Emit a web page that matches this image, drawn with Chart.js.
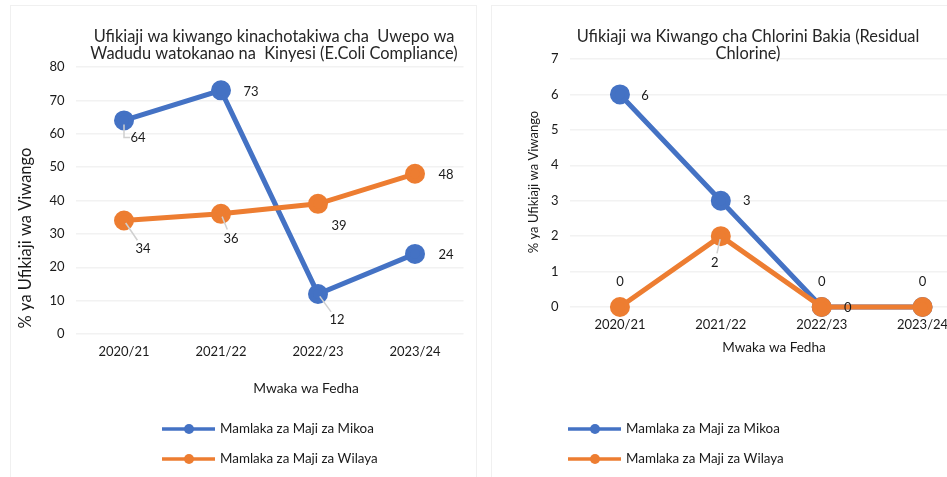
<!DOCTYPE html>
<html>
<head>
<meta charset="utf-8">
<script src="https://cdn.jsdelivr.net/npm/chart.js@4"></script>
<style>
  body { margin: 0; background: #fff; overflow: hidden; width: 947px; height: 477px; position: relative; }
  .frame { position: absolute; border: 1px solid #f0f0f0; box-sizing: border-box; }
  #leftBox { left: 10px; top: 5px; width: 467px; height: 480px; }
  #rightBox { left: 491px; top: 5px; width: 512px; height: 480px; }
</style>
</head>
<body>
<div class="frame" id="leftBox"><canvas id="ecoli"></canvas></div>
<div class="frame" id="rightBox"><canvas id="chlorine"></canvas></div>
<script>
// data
const years = ["2020/21", "2021/22", "2022/23", "2023/24"];
const seriesNames = ["Mamlaka za Maji za Mikoa", "Mamlaka za Maji za Wilaya"];
const ecoliMikoa = [64, 73, 12, 24];
const ecoliWilaya = [34, 36, 39, 48];
const chlorineMikoa = [6, 3, 0, 0];
const chlorineWilaya = [0, 2, 0, 0];

const BLUE = "#4472C4";
const ORANGE = "#ED7D31";
const FONT = "Lato, 'Open Sans', sans-serif";
const TEXT = "#1a1a1a";

// label offsets from the point: [dx, dy, leader]
const ecoliMikoaLbl = [[14, 17, "L"], [30, 1, ""], [19, 26, "line"], [31, 1, ""]];
const ecoliWilayaLbl = [[19, 28, "line"], [10, 25, "line"], [21, 22, ""], [31, 1, ""]];
const chlorMikoaLbl = [[25, 1, ""], [26, 0, ""], [26, 1, ""], [34, 1, ""]];
const chlorWilayaLbl = [[0, -25, ""], [-6, 27, "line"], [0, -25, ""], [0, -25, ""]];

// draws titles, axis titles, data labels and legend
const decor = {
  id: "decor",
  afterDatasetsDraw(chart, args, o) {
    const ctx = chart.ctx;
    ctx.save();
    ctx.fillStyle = TEXT;
    ctx.textAlign = "center";
    ctx.textBaseline = "middle";
    // title
    ctx.fillStyle = "#262626";
    ctx.font = o.titleSize + "px " + FONT;
    o.title.forEach((t, i) => ctx.fillText(t, o.titleX, o.titleY + i * 17));
    ctx.fillStyle = TEXT;
    // x title
    ctx.font = o.axisSize + "px " + FONT;
    ctx.fillText(o.xTitle, o.xTitleX, o.xTitleY);
    // y title
    ctx.save();
    ctx.font = o.yAxisSize + "px " + FONT;
    ctx.translate(o.yTitleX, o.yTitleY);
    ctx.rotate(-Math.PI / 2);
    ctx.fillText(o.yTitle, 0, 0);
    ctx.restore();
    // data labels
    ctx.font = "13px " + FONT;
    chart.data.datasets.forEach((ds, di) => {
      const meta = chart.getDatasetMeta(di);
      meta.data.forEach((pt, i) => {
        const off = o.labels[di][i];
        const lx = pt.x + off[0], ly = pt.y + off[1];
        ctx.strokeStyle = "#d0d0d0";
        ctx.lineWidth = 1.5;
        if (off[2] === "L") {
          ctx.beginPath();
          ctx.moveTo(pt.x, pt.y + 4);
          ctx.lineTo(pt.x, ly);
          ctx.lineTo(lx - 8, ly);
          ctx.stroke();
        } else if (off[2] === "line") {
          const dx = off[0], dy = off[1], d = Math.hypot(dx, dy);
          ctx.beginPath();
          ctx.moveTo(pt.x + dx / d * 3, pt.y + dy / d * 3);
          ctx.lineTo(lx - dx / d * 10, ly - dy / d * 10);
          ctx.stroke();
        }
        ctx.fillText(String(ds.data[i]), lx, ly);
      });
    });
    // legend
    chart.data.datasets.forEach((ds, di) => {
      const y = o.legendY + di * 30;
      ctx.strokeStyle = ds.borderColor;
      ctx.lineWidth = 3.5;
      ctx.beginPath();
      ctx.moveTo(o.legendX, y);
      ctx.lineTo(o.legendX + 53, y);
      ctx.stroke();
      ctx.fillStyle = ds.borderColor;
      ctx.beginPath();
      ctx.arc(o.legendX + 27, y, 5, 0, Math.PI * 2);
      ctx.fill();
      ctx.fillStyle = TEXT;
      ctx.textAlign = "left";
      ctx.font = "13.4px " + FONT;
      ctx.fillText(ds.label, o.legendX + 58, y);
      ctx.textAlign = "center";
    });
    ctx.restore();
  }
};

function makeDatasets(a, b) {
  return [
    { label: seriesNames[0], data: a, borderColor: BLUE, backgroundColor: BLUE,
      borderWidth: 5, pointRadius: 7.5, pointHoverRadius: 7.5, order: 1 },
    { label: seriesNames[1], data: b, borderColor: ORANGE, backgroundColor: ORANGE,
      borderWidth: 5, pointRadius: 7.5, pointHoverRadius: 7.5, order: 0 }
  ];
}

function makeChart(id, w, h, a, b, yMax, pad, yWidth, xHeight, deco) {
  const cv = document.getElementById(id);
  cv.width = w; cv.height = h;
  cv.style.width = w + "px"; cv.style.height = h + "px";
  return new Chart(cv, {
    type: "line",
    data: { labels: years, datasets: makeDatasets(a, b) },
    plugins: [decor],
    options: {
      responsive: false,
      animation: false,
      clip: false,
      layout: { padding: pad },
      plugins: {
        legend: { display: false },
        title: { display: false },
        tooltip: { enabled: false },
        decor: deco
      },
      scales: {
        x: {
          offset: true,
          grid: { display: false, drawTicks: false },
          border: { display: false },
          ticks: { padding: 10, color: TEXT, font: { family: FONT, size: 13 }, maxRotation: 0 },
          afterFit(s) { s.height = xHeight; }
        },
        y: {
          min: 0, max: yMax,
          grid: { color: "#f2f2f2", lineWidth: 1.5, drawTicks: false },
          border: { display: false },
          ticks: { stepSize: yMax > 10 ? 10 : 1, padding: 11, color: TEXT, font: { family: FONT, size: 13 } },
          afterFit(s) { s.width = yWidth; }
        }
      }
    }
  });
}

// left chart: chart area 64.5..452.5 x, 61..328 y (canvas coords)
makeChart("ecoli", 467, 472, ecoliMikoa, ecoliWilaya, 80,
  { left: 24.5, right: 14.5, top: 61, bottom: 104 }, 40, 40,
  {
    title: ["Ufikiaji wa kiwango kinachotakiwa cha  Uwepo wa", "Wadudu watokanao na  Kinyesi (E.Coli Compliance)"],
    titleX: 263, titleY: 31, titleSize: 16.4,
    xTitle: "Mwaka wa Fedha", xTitleX: 295, xTitleY: 383, axisSize: 13.8,
    yTitle: "% ya Ufikiaji wa Viwango", yTitleX: 15, yTitleY: 232, yAxisSize: 16.5,
    labels: [ecoliMikoaLbl, ecoliWilayaLbl],
    legendX: 151, legendY: 423
  });

// right chart: chart area 77.5..481 x, 53..301 y
makeChart("chlorine", 512, 472, chlorineMikoa, chlorineWilaya, 7,
  { left: 37.5, right: 31, top: 53, bottom: 131 }, 40, 40,
  {
    title: ["Ufikiaji wa Kiwango cha Chlorini Bakia (Residual", "Chlorine)"],
    titleX: 256, titleY: 31, titleSize: 16.4,
    xTitle: "Mwaka wa Fedha", xTitleX: 282, xTitleY: 342, axisSize: 13.5,
    yTitle: "% ya Ufikiaji wa Viwango", yTitleX: 42, yTitleY: 176, yAxisSize: 13,
    labels: [chlorMikoaLbl, chlorWilayaLbl],
    legendX: 76, legendY: 423
  });
</script>
</body>
</html>
